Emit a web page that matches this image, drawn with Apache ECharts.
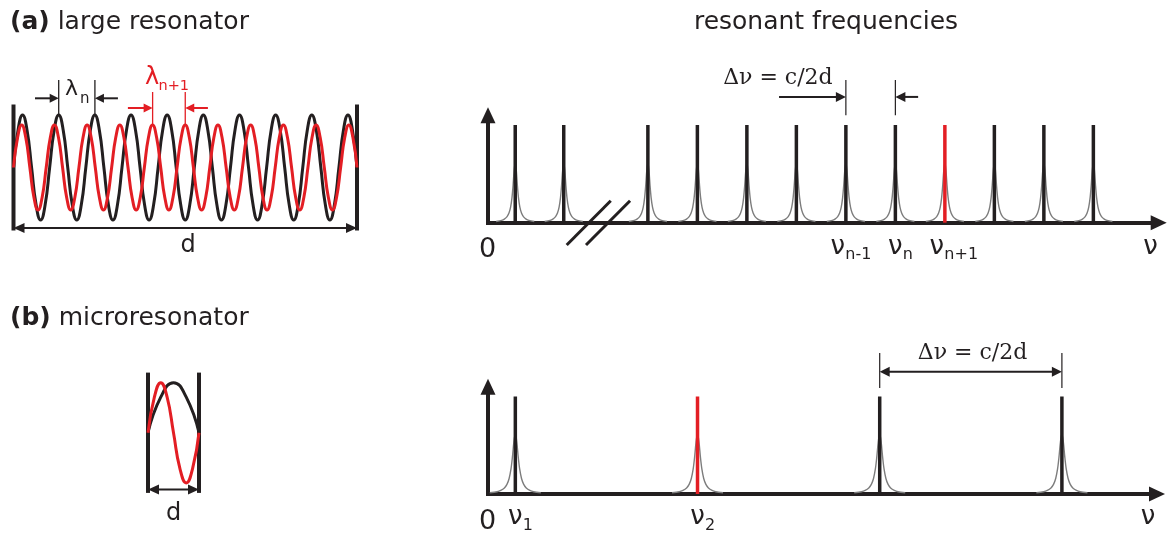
<!DOCTYPE html>
<html><head><meta charset="utf-8">
<script src="https://cdn.jsdelivr.net/npm/echarts@6/dist/echarts.min.js"></script>
<style>html,body{margin:0;padding:0;background:#fff}#c{width:1170px;height:533px}</style>
</head><body><div id="c"></div>
<script>
// ================= DATA =================
// (a) large resonator: standing waves across d, sampled every 1/8 wavelength (black: 19 half-waves, red: 21 half-waves)
const blackWaveLarge = [
  0,0.71,1,0.71,0,-0.71,-1,-0.71, 0,0.71,1,0.71,0,-0.71,-1,-0.71, 0,0.71,1,0.71,0,-0.71,-1,-0.71,
  0,0.71,1,0.71,0,-0.71,-1,-0.71, 0,0.71,1,0.71,0,-0.71,-1,-0.71, 0,0.71,1,0.71,0,-0.71,-1,-0.71,
  0,0.71,1,0.71,0,-0.71,-1,-0.71, 0,0.71,1,0.71,0,-0.71,-1,-0.71, 0,0.71,1,0.71,0,-0.71,-1,-0.71,
  0,0.71,1,0.71,0
];
const redWaveLarge = [
  0,0.57,0.81,0.57,0,-0.57,-0.81,-0.57, 0,0.57,0.81,0.57,0,-0.57,-0.81,-0.57, 0,0.57,0.81,0.57,0,-0.57,-0.81,-0.57,
  0,0.57,0.81,0.57,0,-0.57,-0.81,-0.57, 0,0.57,0.81,0.57,0,-0.57,-0.81,-0.57, 0,0.57,0.81,0.57,0,-0.57,-0.81,-0.57,
  0,0.57,0.81,0.57,0,-0.57,-0.81,-0.57, 0,0.57,0.81,0.57,0,-0.57,-0.81,-0.57, 0,0.57,0.81,0.57,0,-0.57,-0.81,-0.57,
  0,0.57,0.81,0.57,0,-0.57,-0.81,-0.57,
  0,0.57,0.81,0.57,0
];
// (b) microresonator: black half-wave, red full wave
const blackWaveMicro = [0,0.71,1,0.71,0];
const redWaveMicro = [0,0.71,1,0.71,0,-0.71,-1,-0.71,0];

// resonant frequencies (in units of the mode spacing of each panel)
const topModes = [0.55, 1.53, 3.23, 4.23, 5.23, 6.23, 7.23, 8.23, 9.23, 10.23, 11.23, 12.23];
const topRedMode = 9.23;
const topLabelSubs = ['n-1', 'n', 'n+1'];
const topLabelModes = [7.23, 8.23, 9.23];
const bottomModes = [0.15, 1.15, 2.15, 3.15];
const bottomRedMode = 1.15;
const bottomLabelSubs = ['1', '2'];
const bottomLabelModes = [0.15, 1.15];
const modeHeight = 1.0;
const peakHeight = 0.62;
const topHalfWidth = 0.055;
const bottomHalfWidth = 0.02;
// Lorentzian line profile: [offset in half-widths, relative height]
const lorentzProfile = [
  [-7,0.02],[-5,0.038],[-4,0.059],[-3,0.1],[-2.3,0.159],[-1.7,0.257],[-1.2,0.41],[-0.8,0.61],[-0.4,0.86],[0,1],
  [0.4,0.86],[0.8,0.61],[1.2,0.41],[1.7,0.257],[2.3,0.159],[3,0.1],[4,0.059],[5,0.038],[7,0.02]
];

// ================= STYLE =================
const DARK = '#231f20', RED = '#e31e24', GRAY = '#7d7d7d';
const SANS = "'DejaVu Sans', sans-serif", SERIF = "'DejaVu Serif', serif";

function seg(color, width) {
  return function (params, api) {
    const a = api.coord([api.value(0), api.value(1)]);
    const b = api.coord([api.value(2), api.value(3)]);
    return { type: 'line', shape: { x1: a[0], y1: a[1], x2: b[0], y2: b[1] }, style: { stroke: color, lineWidth: width } };
  };
}
function arrow(color, width, headLen, headW, both) {
  return function (params, api) {
    const a = api.coord([api.value(0), api.value(1)]);
    const b = api.coord([api.value(2), api.value(3)]);
    const dx = b[0] - a[0], dy = b[1] - a[1];
    const L = Math.sqrt(dx * dx + dy * dy) || 1;
    const ux = dx / L, uy = dy / L, nx = -uy, ny = ux;
    const head = (t, sx, sy) => ({
      type: 'polygon',
      shape: { points: [t,
        [t[0] - sx * headLen + nx * headW / 2, t[1] - sy * headLen + ny * headW / 2],
        [t[0] - sx * headLen - nx * headW / 2, t[1] - sy * headLen - ny * headW / 2]] },
      style: { fill: color }
    });
    const s = both ? [a[0] + ux * headLen * 0.8, a[1] + uy * headLen * 0.8] : a;
    const e = [b[0] - ux * headLen * 0.8, b[1] - uy * headLen * 0.8];
    const ch = [{ type: 'line', shape: { x1: s[0], y1: s[1], x2: e[0], y2: e[1] }, style: { stroke: color, lineWidth: width } }, head(b, ux, uy)];
    if (both) ch.push(head(a, -ux, -uy));
    return { type: 'group', children: ch };
  };
}
function custom(grid, data, renderItem, z) {
  return { type: 'custom', xAxisIndex: grid, yAxisIndex: grid, data: data, renderItem: renderItem,
    encode: { x: [0, 2], y: [1, 3] }, clip: false, silent: true, z: z || 3, animation: false };
}
function wave(grid, values, color, width, z) {
  return { type: 'line', xAxisIndex: grid, yAxisIndex: grid, data: values.map((v, i) => [i / (values.length - 1), v]),
    smooth: 0.5, symbol: 'none', lineStyle: { color: color, width: width }, silent: true, z: z, animation: false };
}
function peaks(grid, modes, hw) {
  return modes.map(f => ({ type: 'line', xAxisIndex: grid, yAxisIndex: grid,
    data: lorentzProfile.map(p => [f + p[0] * hw, p[1] * peakHeight]), smooth: 0.3, symbol: 'none',
    lineStyle: { color: GRAY, width: 1.4 }, silent: true, z: 1, animation: false }));
}
const hidden = { show: false };
const specAxisLine = { show: true, onZero: false, symbol: ['none', 'triangle'], symbolSize: [15, 16],
  lineStyle: { color: DARK, width: 4, cap: 'square' } };
function specAxis(g, max) {
  return { gridIndex: g, type: 'value', min: 0, max: max, axisLine: specAxisLine, axisTick: hidden, axisLabel: hidden, splitLine: hidden };
}

const series = [
  // (a) left
  wave(0, blackWaveLarge, DARK, 3, 4),
  wave(0, redWaveLarge, RED, 3, 5),
  custom(0, [[0, 1.2, 0, -1.2], [1, 1.2, 1, -1.2]], seg(DARK, 4)),
  custom(0, [[0, -1.152, 1, -1.152]], arrow(DARK, 2, 11, 10, true)),
  custom(0, [[0.1316, 1.667, 0.1316, 1.0], [0.237, 1.667, 0.237, 1.0]], seg(DARK, 1.3)),
  custom(0, [[0.0626, 1.318, 0.1316, 1.318], [0.304, 1.318, 0.237, 1.318]], arrow(DARK, 2, 9, 9, false)),
  custom(0, [[0.405, 1.438, 0.405, 0.81], [0.5, 1.438, 0.5, 0.81]], seg(RED, 1.3)),
  custom(0, [[0.333, 1.133, 0.405, 1.133], [0.566, 1.133, 0.5, 1.133]], arrow(RED, 2, 9, 9, false)),
  // (b) left
  wave(1, blackWaveMicro, DARK, 3, 4),
  wave(1, redWaveMicro, RED, 3, 5),
  custom(1, [[0, 1.2, 0, -1.2], [1, 1.2, 1, -1.2]], seg(DARK, 4)),
  custom(1, [[0, -1.133, 1, -1.133]], arrow(DARK, 2, 11, 10, true)),
  // (a) spectrum
  ...peaks(2, topModes, topHalfWidth),
  custom(2, topModes.filter(f => f !== topRedMode).map(f => [f, 0, f, modeHeight]), seg(DARK, 3.5)),
  custom(2, [[topRedMode, 0, topRedMode, modeHeight]], seg(RED, 3.5)),
  custom(2, [[1.59, -0.228, 2.48, 0.225], [1.98, -0.228, 2.87, 0.225]], seg(DARK, 3), 12),
  custom(2, [[7.23, 1.46, 7.23, 1.10], [8.23, 1.46, 8.23, 1.10]], seg(DARK, 1.2)),
  custom(2, [[5.88, 1.287, 7.23, 1.287], [8.69, 1.287, 8.23, 1.287]], arrow(DARK, 2, 10, 10, false)),
  // (b) spectrum
  ...peaks(3, bottomModes, bottomHalfWidth),
  custom(3, bottomModes.filter(f => f !== bottomRedMode).map(f => [f, 0, f, modeHeight]), seg(DARK, 3.5)),
  custom(3, [[bottomRedMode, 0, bottomRedMode, modeHeight]], seg(RED, 3.5)),
  custom(3, [[2.15, 1.446, 2.15, 1.087], [3.15, 1.446, 3.15, 1.087]], seg(DARK, 1.2)),
  custom(3, [[2.15, 1.254, 3.15, 1.254]], arrow(DARK, 2, 10, 10, true))
];

const option = {
  animation: false,
  backgroundColor: '#ffffff',
  grid: [
    { left: 13.5, top: 62.5, width: 343.5, height: 210 },
    { left: 148, top: 332.5, width: 51, height: 210 },
    { left: 488, top: 115.2, width: 670.7, height: 107.5 },
    { left: 488, top: 386.75, width: 669, height: 107.25 }
  ],
  xAxis: [
    { gridIndex: 0, type: 'value', min: 0, max: 1, show: false },
    { gridIndex: 1, type: 'value', min: 0, max: 1, show: false },
    specAxis(2, 13.55),
    specAxis(3, 3.672)
  ],
  yAxis: [
    { gridIndex: 0, type: 'value', min: -2, max: 2, show: false },
    { gridIndex: 1, type: 'value', min: -2, max: 2, show: false },
    specAxis(2, 1.1),
    specAxis(3, 1.1)
  ],
  series: series
};

const chart = echarts.init(document.getElementById('c'), null, { renderer: 'canvas' });
chart.setOption(option);

function txt(x, y, text, size, opts) {
  opts = opts || {};
  return { type: 'text', x: x, y: y, silent: true, z: 20,
    style: { text: text, fontFamily: opts.family || SANS, fontSize: size, fontWeight: opts.weight || 'normal',
      fill: opts.color || DARK, align: opts.align || 'center', verticalAlign: 'middle' } };
}
const g = [];
g.push({ type: 'text', x: 10, y: 22, silent: true, z: 20,
  style: { text: '{b|(a)}{r| large resonator}', align: 'left', verticalAlign: 'middle',
    rich: { b: { fontFamily: SANS, fontSize: 25, fontWeight: 'bold', fill: DARK }, r: { fontFamily: SANS, fontSize: 25, fill: DARK } } } });
g.push({ type: 'text', x: 10, y: 318, silent: true, z: 20,
  style: { text: '{b|(b)}{r| microresonator}', align: 'left', verticalAlign: 'middle',
    rich: { b: { fontFamily: SANS, fontSize: 25, fontWeight: 'bold', fill: DARK }, r: { fontFamily: SANS, fontSize: 25, fill: DARK } } } });
g.push(txt(826, 22, 'resonant frequencies', 25));
g.push(txt(65, 89, 'λ', 22, { align: 'left' }));
g.push(txt(80, 99, 'n', 15, { align: 'left' }));
g.push(txt(145, 77.7, 'λ', 24, { align: 'left', color: RED }));
g.push(txt(158.5, 86.5, 'n+1', 14.5, { align: 'left', color: RED }));
g.push(txt(188, 245.7, 'd', 24));
g.push(txt(173.5, 513.4, 'd', 24));
g.push(txt(487.5, 250, '0', 27));
g.push(txt(487.5, 521.7, '0', 27));
g.push(txt(1150.5, 247.7, 'ν', 26));
g.push(txt(1148, 517.7, 'ν', 26));
g.push(txt(777.9, 78.4, 'Δν = c/2d', 22, { family: SERIF }));
g.push(txt(972.5, 353.1, 'Δν = c/2d', 22, { family: SERIF }));
function nuLabel(grid, f, sub, yMain, ySub) {
  const px = chart.convertToPixel({ gridIndex: grid }, [f, 0])[0];
  const shift = sub.length > 1 ? 8 : 0;
  const cx = px - shift;
  g.push(txt(cx, yMain, 'ν', 26));
  g.push(txt(cx + 7.5, ySub, sub, 16, { align: 'left' }));
}
topLabelModes.forEach((f, i) => nuLabel(2, f, topLabelSubs[i], 247.7, 254.5));
bottomLabelModes.forEach((f, i) => nuLabel(3, f, bottomLabelSubs[i], 517.7, 526));
chart.setOption({ graphic: g });
</script>
</body></html>
